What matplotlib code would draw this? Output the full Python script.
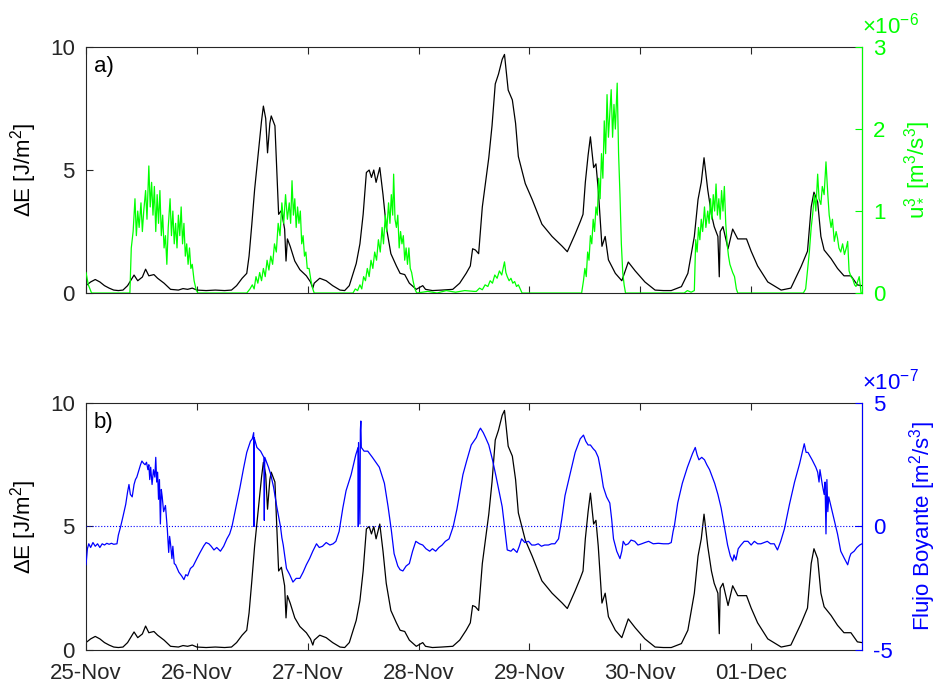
import numpy as np
import matplotlib
matplotlib.use("Agg")
import matplotlib.pyplot as plt

plt.rcParams['font.family'] = ['Liberation Sans', 'DejaVu Sans']
plt.rcParams['mathtext.fontset'] = 'custom'
plt.rcParams['mathtext.rm'] = 'Liberation Sans'
plt.rcParams['mathtext.it'] = 'Liberation Sans'
plt.rcParams['axes.unicode_minus'] = False

# x axis: hours since 25-Nov 00:00
day_ticks = [0, 24, 48, 72, 96, 120, 144]
day_labels = ['25-Nov', '26-Nov', '27-Nov', '28-Nov', '29-Nov', '30-Nov', '01-Dec']

# Delta E [J/m2] (black)
de_t = [0, 1, 2, 3, 4, 5, 6, 7, 8, 9, 10.4, 11.2, 12.2, 12.9, 13.6, 14.7, 15.5, 16.9, 18.3,
        20, 21, 22, 23, 24, 26, 28, 30, 31.5, 32.6, 33.8, 34.8, 35.3, 35.9, 36.5, 37.2,
        38.0, 38.4, 38.9, 39.3, 39.8, 40.1, 40.9, 41.4, 41.7, 42.3, 43.0, 43.3, 43.6,
        44.2, 45.2, 46.3, 47.7, 48.6, 49.1, 49.4, 50.6, 52.0, 53.4, 55.0, 56.0, 57.0,
        58.5, 59.3, 60.0, 60.7, 61.3, 61.8, 62.3, 62.8, 63.2, 63.6, 64.3, 65.0, 66.0,
        67.2, 68.0, 69.0, 70.0, 71.5, 72.9, 73.5, 75, 77, 79.4, 80.9, 82.3, 83.2, 83.7,
        84.3, 85.0, 85.8, 86.5, 87.2, 87.9, 88.6, 89.3, 90.1, 90.6, 91.4, 92.3, 93.0,
        93.6, 95.1, 96.6, 98.7, 100.9, 103.1, 104.2, 105.2, 105.9, 107.0, 107.6, 108.1,
        108.7, 109.2, 109.9, 110.4, 110.9, 111.7, 112.4, 113.1, 114.6, 116.0, 117.4,
        118.9, 121.0, 123.2, 125, 126.7, 128.9, 130.3, 131.7, 132.5, 133.2, 133.8,
        134.6, 135.4, 136.0, 136.8, 137.1, 137.3, 137.9, 139.0, 140.0, 141.1, 143.0,
        144.0, 145.4, 147.6, 150.5, 152.6, 154.8, 156.2, 157.0, 157.6, 158.4, 159.1,
        159.8, 161.3, 162.7, 164.1, 165.6, 167.0, 168.0]
de_v = [0.3, 0.45, 0.55, 0.45, 0.3, 0.2, 0.12, 0.1, 0.12, 0.3, 0.73, 0.5, 0.65, 0.97, 0.7,
        0.75, 0.6, 0.4, 0.15, 0.12, 0.18, 0.15, 0.2, 0.12, 0.1, 0.12, 0.1, 0.12, 0.3, 0.6,
        0.8, 1.5, 2.8, 4.2, 5.5, 7.0, 7.6, 7.1, 5.7, 6.9, 7.2, 6.8, 4.5, 3.2, 3.35, 2.6,
        1.3, 2.2, 1.9, 1.3, 0.95, 0.7, 0.45, 0.2, 0.4, 0.6, 0.5, 0.3, 0.12, 0.1, 0.3,
        1.2, 2.0, 3.2, 4.9, 5.0, 4.7, 5.0, 4.5, 4.8, 5.1, 4.0, 2.7, 1.6, 1.1, 0.8, 0.75,
        0.4, 0.15, 0.3, 0.15, 0.1, 0.12, 0.15, 0.4, 0.8, 1.1, 1.8, 1.75, 1.6, 3.5, 4.5,
        5.5, 6.8, 8.5, 8.9, 9.5, 9.7, 8.25, 7.85, 6.9, 5.55, 4.45, 3.8, 2.8, 2.3, 1.9,
        1.68, 2.1, 2.4, 2.9, 3.2, 4.5, 5.6, 6.35, 5.1, 5.25, 4.2, 1.9, 2.3, 1.35, 0.8,
        0.5, 1.26, 0.9, 0.45, 0.12, 0.1, 0.1, 0.26, 0.8, 2.3, 3.8, 4.5, 5.5, 4.2, 3.2,
        2.7, 2.3, 0.66, 2.5, 2.7, 1.8, 2.6, 2.2, 2.2, 1.7, 1.1, 0.45, 0.12, 0.2, 1.07,
        1.7, 3.5, 4.1, 3.7, 2.3, 1.75, 1.4, 1.0, 0.7, 0.7, 0.33, 0.3]

# u*^3 [x1e-6 m3/s3] (green)
u3_t = [0, 0.5, 1.2, 9.5, 9.8, 10.2, 10.6, 10.9, 11.2, 11.5, 11.9, 12.2, 12.5, 12.9, 13.2,
        13.6, 13.9, 14.2, 14.5, 14.8, 15.1, 15.4, 15.7, 16.0, 16.3, 16.6, 16.9, 17.2, 17.5,
        17.8, 18.2, 18.5, 18.8, 19.1, 19.4, 19.7, 20.0, 20.3, 20.6, 20.9, 21.2, 21.5, 21.8,
        22.1, 22.4, 22.7, 23.0, 23.4, 23.8, 24.2,
        34.8, 35.5, 36.0, 36.4, 36.8, 37.2, 37.6, 38.0, 38.4, 38.8, 39.2, 39.6, 40.0, 40.4,
        40.8, 41.2, 41.6, 42.0, 42.4, 42.8, 43.2, 43.6, 44.0, 44.3, 44.6, 44.9, 45.2, 45.5,
        45.8, 46.1, 46.4, 46.7, 47.0, 47.3, 47.6, 47.9, 48.3, 48.7, 49.1, 49.4,
        57.8, 58.3, 58.8, 59.3, 59.7, 60.1, 60.5, 60.9, 61.3, 61.7, 62.1, 62.5, 62.9, 63.3,
        63.7, 64.1, 64.4, 64.8, 65.1, 65.5, 65.8, 66.1, 66.4, 66.6, 66.9, 67.2, 67.5, 67.8,
        68.1, 68.4, 68.7, 69.0, 69.3, 69.6, 69.9, 70.2, 70.5, 70.8, 71.2, 71.6,
        74, 76, 78, 80, 82, 84,
        84.5, 85.2, 85.8, 86.4, 87.0, 87.5, 88.0, 88.5, 89.0, 89.5, 90.0, 90.3, 90.6, 90.9,
        91.2, 91.6, 92.0, 92.4, 92.8, 93.2, 93.6, 94.0, 94.4,
        107.3, 107.7, 108.0, 108.3, 108.6, 108.9, 109.2, 109.5, 109.8, 110.1, 110.4, 110.7,
        111.0, 111.3, 111.6, 111.9, 112.2, 112.5, 112.8, 113.1, 113.4, 113.7, 114.0, 114.3,
        114.6, 115.0, 115.3, 115.6, 115.9, 116.2, 116.5, 116.8,
        129.5, 130.2, 131.0, 131.7, 132.0, 132.3, 132.6, 132.9, 133.2, 133.5, 133.9, 134.2,
        134.6, 134.9, 135.2, 135.5, 135.8, 136.1, 136.4, 136.7, 137.0, 137.3, 137.6, 137.9,
        138.2, 138.5, 138.8, 139.1, 139.4, 139.7, 140.0, 140.4, 140.8, 141.1,
        155.3, 155.8, 156.2, 156.6, 157.0, 157.3, 157.7, 158.0, 158.4, 158.7, 159.1, 159.4,
        159.8, 160.2, 160.6, 160.9, 161.3, 161.6, 162.0, 162.4, 162.7, 163.0, 163.4, 163.8,
        164.2, 164.6, 164.9, 165.2, 165.6, 166.0, 166.4, 166.7, 167.1, 167.4, 167.8, 168.0]
u3_v = [0.25, 0.1, 0.0, 0.0, 0.55, 0.75, 1.15, 0.7, 1.0, 0.8, 1.1, 0.75, 1.0, 1.25, 0.9,
        1.55, 1.05, 1.35, 0.95, 1.3, 0.75, 1.2, 0.85, 1.25, 0.7, 0.95, 0.55, 0.7, 0.35,
        0.8, 1.15, 0.7, 1.0, 0.6, 0.85, 0.55, 0.95, 0.7, 1.05, 0.6, 0.85, 0.45, 0.6,
        0.35, 0.55, 0.3, 0.35, 0.15, 0.05, 0.0,
        0.0, 0.05, 0.1, 0.05, 0.2, 0.12, 0.25, 0.15, 0.3, 0.2, 0.4, 0.28, 0.45, 0.35,
        0.6, 0.5, 0.85, 0.7, 1.1, 0.85, 1.2, 0.9, 1.1, 0.85, 1.37, 0.95, 1.15, 0.8,
        1.05, 0.85, 1.0, 0.6, 0.7, 0.45, 0.5, 0.3, 0.3, 0.15, 0.05, 0.0,
        0.0, 0.05, 0.03, 0.1, 0.05, 0.2, 0.15, 0.3, 0.2, 0.4, 0.3, 0.5, 0.4, 0.65,
        0.5, 0.8, 0.6, 0.95, 0.75, 1.1, 0.85, 1.2, 0.95, 1.45, 0.9, 0.8, 0.95, 0.55,
        0.75, 0.6, 0.7, 0.4, 0.55, 0.35, 0.55, 0.3, 0.25, 0.15, 0.05, 0.0,
        0.02, 0.0, 0.03, 0.01, 0.03, 0.02,
        0.02, 0.06, 0.04, 0.1, 0.08, 0.15, 0.12, 0.22, 0.18, 0.27, 0.22, 0.3, 0.38, 0.25,
        0.2, 0.15, 0.18, 0.12, 0.14, 0.08, 0.1, 0.05, 0.0,
        0.0, 0.15, 0.3, 0.2, 0.5, 0.4, 0.7, 0.6, 0.9, 0.75, 1.05, 0.95,
        1.4, 1.15, 1.7, 1.4, 2.1, 1.7, 2.42, 1.9, 2.2, 2.48, 1.9, 2.3,
        2.0, 2.56, 1.7, 1.2, 0.6, 0.25, 0.1, 0.0,
        0.0, 0.03, 0.01, 0.03, 0.65, 0.5, 0.8, 0.65, 0.9, 0.75, 1.05, 0.8,
        1.0, 0.85, 1.15, 0.9, 1.2, 1.0, 1.33, 0.95, 1.15, 0.9, 1.25, 1.0,
        1.3, 0.85, 0.6, 0.45, 0.35, 0.3, 0.25, 0.2, 0.05, 0.0,
        0.0, 0.05, 0.27, 0.5, 0.8, 0.95, 1.2, 1.0, 1.45, 1.15, 1.08, 1.3,
        1.2, 1.6, 1.2, 0.95, 0.8, 0.9, 0.63, 0.75, 0.67, 0.55, 0.5, 0.6,
        0.47, 0.55, 0.63, 0.27, 0.2, 0.17, 0.1, 0.08, 0.15, 0.2, 0.0, 0.0]

# Flujo boyante [x1e-7 m2/s3] (blue)
fb_t = [0, 0.3, 0.6, 1.0, 1.5, 2.0, 2.5, 3.0, 3.5, 4.0, 4.5, 5.0, 5.5, 6.0, 6.7, 7.0, 7.5,
        8.0, 8.6, 9.0, 9.3, 9.6, 10.0, 10.4, 10.7, 11.0, 11.4, 11.8, 12.1, 12.5, 12.8,
        13.1, 13.4, 13.6, 13.8, 14.0, 14.3, 14.6, 14.9, 15.1, 15.3, 15.5, 15.7, 15.9,
        16.1, 16.3, 16.5, 16.8, 17.2, 17.6, 17.9, 18.1, 18.3, 18.6, 18.8, 19.1, 19.4,
        20.1, 20.7, 21.2, 21.6, 22.0, 22.6, 23.2, 24.0, 24.7, 25.5, 26.0, 26.6, 27.1,
        27.7, 28.3, 29.1, 29.8, 30.5, 31.1, 31.6, 32.1, 32.6, 33.3, 34.1, 34.8, 35.6,
        36.0, 36.3, 36.35, 36.4, 37.0, 37.8, 38.5, 38.6, 38.7, 39.5, 40.0, 40.6, 41.3,
        42.1, 42.4, 42.7, 43.4, 44.1, 44.8, 45.5, 46.3, 47.0, 47.7, 48.4, 49.1, 49.9,
        50.5, 51.2, 52.0, 52.8, 53.5, 54.1, 54.8, 55.6, 56.3, 57.4, 58.4, 58.9, 58.95,
        59.0, 59.3, 59.4, 59.5, 59.6, 60.2, 61.0, 62.0, 63.5, 64.6, 65.4, 66.1, 66.7,
        67.5, 68.0, 68.6, 69.3, 70.0, 70.7, 71.4, 72.2, 72.9, 73.6, 74.4, 75.0, 75.7,
        76.4, 77.1, 77.8, 78.6, 79.5, 80.3, 80.9, 81.6, 82.4, 83.4, 84.5, 85.0, 85.4,
        86.0, 86.5, 87.2, 88.0, 88.8, 89.5, 90.1, 90.6, 91.2, 92.0, 92.5, 93.3, 93.8,
        94.3, 95.0, 95.8, 96.5, 97.2, 97.9, 98.6, 99.3, 100.1, 100.8, 101.5, 102.3,
        103.0, 103.7, 104.9, 105.9, 107.0, 107.7, 108.2, 108.7, 109.2, 109.8, 110.3,
        110.9, 111.5, 112.0, 112.7, 113.4, 113.8, 114.2, 114.9, 115.6, 116.0, 116.3,
        116.8, 117.4, 118.0, 118.8, 119.5, 120.3, 121.0, 121.8, 122.8, 123.9, 125.0,
        126.1, 126.7, 127.1, 127.4, 128.1, 129.1, 130.2, 131.3, 131.9, 132.3, 132.7,
        133.3, 133.9, 134.4, 135.0, 136.1, 136.8, 137.5, 138.2, 138.9, 139.5, 140.0,
        140.3, 140.7, 141.2, 141.8, 142.5, 143.3, 144.0, 144.7, 145.4, 146.1, 146.8,
        147.5, 148.2, 149.0, 149.7, 150.4, 151.2, 152.3, 153.4, 154.5, 155.5, 155.9,
        156.3, 157.2, 158.0, 158.4, 158.7, 158.9, 159.4, 159.8, 160.0, 160.2, 160.4,
        160.6, 160.8, 161.3, 162.0, 162.7, 163.4, 164.2, 164.9, 165.3, 165.6, 166.3,
        166.9, 167.5, 168.0]
fb_v = [-1.55, -0.9, -0.7, -0.85, -0.65, -0.8, -0.7, -0.85, -0.7, -0.75, -0.68, -0.72,
        -0.68, -0.72, -0.7, -0.35, 0.0, 0.4, 0.9, 1.4, 1.7, 1.3, 1.2, 1.7, 1.9, 2.0, 2.25,
        2.5, 2.65, 2.55, 2.5, 2.6, 2.3, 2.5, 1.9, 2.4, 1.7, 2.3, 2.0, 2.8, 1.8, 2.2, 1.1,
        1.9, 0.1, 1.5, 1.2, 0.6, 0.85, -0.1, -1.05, -0.4, -0.7, -1.3, -0.8, -1.5, -1.55,
        -1.85, -2.0, -2.15, -1.95, -2.0, -1.7, -1.6, -1.3, -1.05, -0.78, -0.65, -0.7,
        -0.8, -0.95, -0.85, -1.0, -0.8, -0.5, -0.3, 0.0, 0.45, 0.88, 1.55, 2.35, 3.0,
        3.45, 3.55, 3.8, 0.0, 3.6, 3.2, 3.05, 2.8, 0.25, 2.8, 2.4, 2.1, 1.6, 0.8, 0.0,
        -0.45, -0.75, -1.7, -1.95, -2.25, -2.1, -2.1, -1.85, -1.55, -1.3, -1.0, -0.7,
        -0.85, -0.8, -0.65, -0.75, -0.7, -0.6, -0.2, 0.75, 1.45, 2.1, 2.9, 3.2, 0.0,
        3.4, 0.1, 3.9, 4.27, 3.2, 3.05, 3.05, 2.8, 2.4, 1.75, 0.8, -0.15, -1.1,
        -1.6, -1.75, -1.8, -1.6, -1.5, -1.0, -0.6, -0.7, -0.75, -0.9, -1.0, -0.9, -1.0,
        -0.85, -0.75, -0.6, -0.5, 0.0, 0.7, 1.35, 2.1, 2.65, 3.3, 3.6, 3.85, 3.98,
        3.8, 3.6, 3.3, 2.7, 2.0, 1.36, 0.8, 0.0, -0.95, -1.0, -0.9, -1.05, -0.8,
        -0.5, -0.65, -0.6, -0.75, -0.75, -0.7, -0.8, -0.75, -0.75, -0.7, -0.7, -0.5,
        0.3, 1.25, 2.2, 3.0, 3.55, 3.7, 3.45, 3.3, 3.3, 3.15, 3.05,
        2.8, 2.2, 1.6, 1.2, 0.95, 0.3, -0.5, -1.0, -1.3, -1.0, -0.6,
        -0.75, -0.7, -0.55, -0.6, -0.75, -0.7, -0.65, -0.6, -0.7, -0.68, -0.7,
        -0.7, -0.65, -0.2, 0.05, 0.95, 1.75, 2.4, 2.95, 3.2, 2.9, 2.7,
        2.8, 2.7, 2.5, 2.3, 1.75, 1.3, 0.75, 0.0, -0.75, -1.2, -1.4,
        -1.15, -1.35, -0.9, -0.75, -0.6, -0.6, -0.75, -0.6, -0.7, -0.7, -0.65,
        -0.6, -0.7, -0.7, -0.95, -0.6, -0.1, 0.9, 1.8, 2.55, 3.35, 3.0,
        3.0, 2.7, 2.4, 2.2, 1.8, 2.3, 1.7, 1.3, 1.8, -0.3, 1.9,
        0.6, 1.2, 0.8, 0.25, -0.3, -1.0, -1.3, -1.55, -1.25, -1.1, -1.0,
        -0.85, -0.75, -0.7]

GREEN = (0, 1, 0)
BLUE = (0, 0, 1)
GRAY = '#262626'
FS = 16

fig = plt.figure(figsize=(9.39, 6.89), dpi=100)
ax1 = fig.add_axes([0.0916, 0.5747, 0.8264, 0.357])
ax2 = fig.add_axes([0.0916, 0.0566, 0.8264, 0.3585])


def style_left(ax):
    ax.set_xlim(0, 168)
    ax.set_ylim(0, 10)
    ax.set_yticks([0, 5, 10])
    ax.set_xticks(day_ticks)
    ax.tick_params(direction='in', length=5, width=0.8, labelsize=FS, colors=GRAY,
                   top=True, pad=8)
    ax.tick_params(axis='x', pad=9)
    for s in ['left', 'top', 'bottom']:
        ax.spines[s].set_color(GRAY)
    ax.set_ylabel('ΔE [J/m$\\mathregular{^2}$]', fontsize=FS, color='black', labelpad=8)


def style_right(axr, col):
    axr.tick_params(direction='in', length=5, width=0.8, labelsize=FS, colors=col, pad=8)
    axr.spines['right'].set_color(col)
    axr.spines['left'].set_visible(False)
    axr.spines['top'].set_visible(False)
    axr.spines['bottom'].set_visible(False)


# panel a)
ax1.plot(de_t, de_v, color='black', lw=0.9)
style_left(ax1)
ax1.set_xticklabels([])
ax1.text(0.01, 0.965, 'a)', transform=ax1.transAxes, fontsize=FS, va='top', ha='left')
ax1r = ax1.twinx()
ax1r.plot(u3_t, u3_v, color=GREEN, lw=0.9)
ax1r.set_ylim(0, 3)
ax1r.set_yticks([0, 1, 2, 3])
ax1r.set_xlim(0, 168)
style_right(ax1r, GREEN)
ax1r.set_ylabel('$\\mathregular{u^3_*}$ [m$\\mathregular{^3}$/s$\\mathregular{^3}$]',
                fontsize=FS, color=GREEN, labelpad=12)
ax1r.text(1.0, 1.057, '×10$\\mathregular{^{-6}}$', transform=ax1r.transAxes,
          fontsize=FS, color=GREEN, ha='left', va='baseline')

# panel b)
ax2.plot(de_t, de_v, color='black', lw=0.9)
style_left(ax2)
ax2.set_xticklabels(day_labels)
ax2.text(0.01, 0.965, 'b)', transform=ax2.transAxes, fontsize=FS, va='top', ha='left')
ax2r = ax2.twinx()
ax2r.axhline(0, color=BLUE, lw=0.8, ls=':')
ax2r.plot(fb_t, fb_v, color=BLUE, lw=0.9)
ax2r.set_ylim(-5, 5)
ax2r.set_yticks([-5, 0, 5])
ax2r.set_xlim(0, 168)
style_right(ax2r, BLUE)
ax2r.set_ylabel('Flujo Boyante [m$\\mathregular{^2}$/s$\\mathregular{^3}$]',
                fontsize=FS, color=BLUE, labelpad=10)
ax2r.text(1.0, 1.053, '×10$\\mathregular{^{-7}}$', transform=ax2r.transAxes,
          fontsize=FS, color=BLUE, ha='left', va='baseline')

fig.savefig('out.png', dpi=100)
